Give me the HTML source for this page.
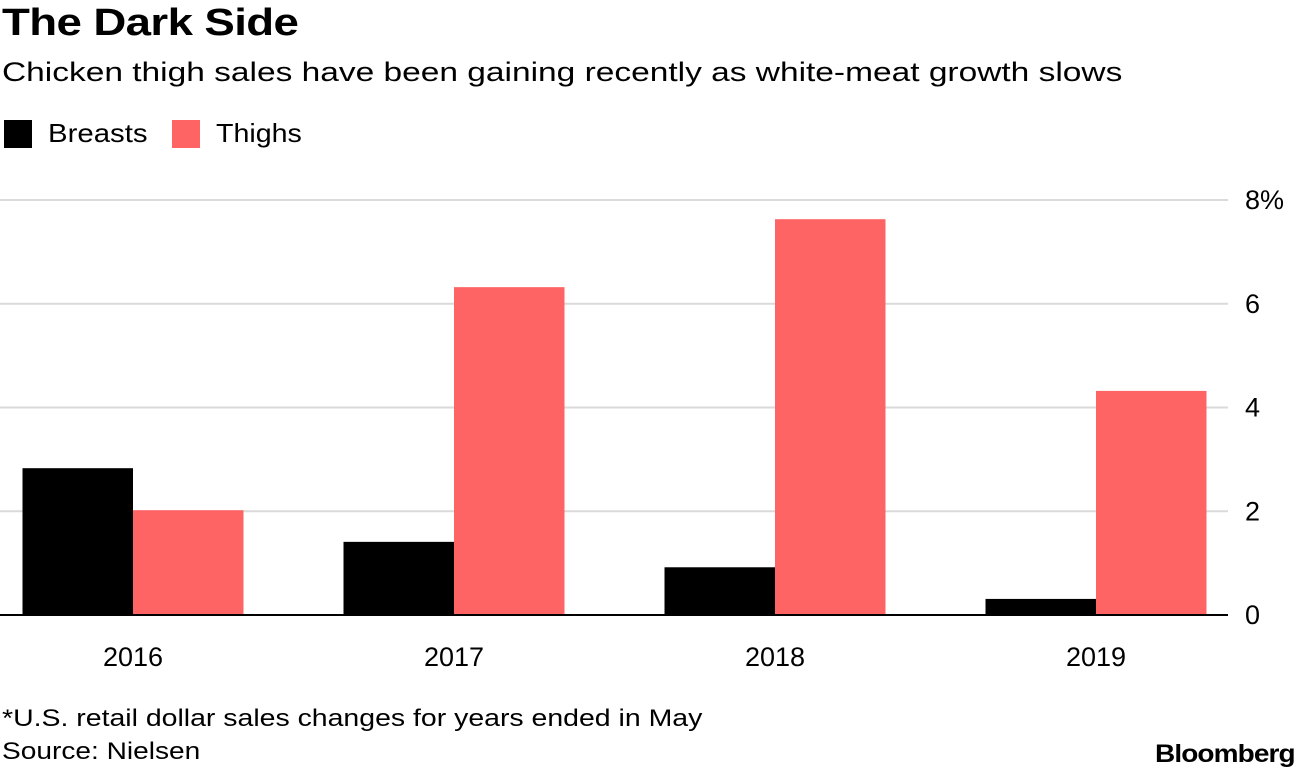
<!DOCTYPE html>
<html><head><meta charset="utf-8"><style>
body{margin:0;width:1296px;height:770px;background:#fff;font-family:"Liberation Sans",sans-serif;overflow:hidden;position:relative}
.t{position:absolute;white-space:nowrap;color:#000;transform-origin:0 0}
</style></head><body>
<div class="t" style="left:2px;top:2px;font-size:38px;font-weight:bold;letter-spacing:-0.5px;transform:scaleX(1.2)">The Dark Side</div>
<div class="t" style="left:2px;top:57px;font-size:27px;transform:scaleX(1.24)">Chicken thigh sales have been gaining recently as white-meat growth slows</div>
<div style="position:absolute;left:4px;top:120px;width:28px;height:28px;background:#000"></div>
<div class="t" style="left:48px;top:118px;font-size:26px;transform:scaleX(1.13)">Breasts</div>
<div style="position:absolute;left:172px;top:120px;width:28px;height:28px;background:#ff6464"></div>
<div class="t" style="left:216px;top:118px;font-size:26px;transform:scaleX(1.1)">Thighs</div>
<svg id="chart" width="1296" height="770" style="position:absolute;left:0;top:0"></svg>
<div class="t" style="left:2px;top:705px;font-size:24px;transform:scaleX(1.185)">*U.S. retail dollar sales changes for years ended in May</div>
<div class="t" style="left:2px;top:738px;font-size:24px;transform:scaleX(1.17)">Source: Nielsen</div>
<div class="t" style="left:1155px;top:740px;font-size:25px;font-weight:bold;letter-spacing:-0.8px;transform:scaleX(1.12)">Bloomberg</div>
<script>
const categories=["2016","2017","2018","2019"];
const breasts=[2.83,1.41,0.92,0.31];
const thighs=[2.02,6.32,7.63,4.32];
const ticks=[0,2,4,6,8];
const tickLabels=["0","2","4","6","8%"];
const svg=document.getElementById('chart');
const NS="http://www.w3.org/2000/svg";
const y0=615,yTop=200,maxV=8;
const y=v=>y0-(v/maxV)*(y0-yTop);
const xc=i=>133+i*321;
const bw=110.5;
function mk(t,a){const e=document.createElementNS(NS,t);for(const k in a)e.setAttribute(k,a[k]);svg.appendChild(e);return e;}
ticks.forEach((t,i)=>{
 if(t!==0){const g=mk('line',{x1:0,x2:1228,y1:y(t),y2:y(t),stroke:'#dadada','stroke-width':2});
 
 }
 const l=mk('text',{x:1245,y:y(t)+9,'font-size':27,'font-family':'Liberation Sans, sans-serif'});
 l.textContent=tickLabels[i];
 
 
});
categories.forEach((c,i)=>{
 const b=mk('rect',{x:xc(i)-bw,y:y(breasts[i]),width:bw,height:y0-y(breasts[i]),fill:'#000'});
 
 
 const t=mk('rect',{x:xc(i),y:y(thighs[i]),width:bw,height:y0-y(thighs[i]),fill:'#ff6464'});
 
 
 const l=mk('text',{x:xc(i),y:666,'font-size':27,'text-anchor':'middle','font-family':'Liberation Sans, sans-serif'});
 l.textContent=c;
 
 
});
const base=mk('line',{x1:0,x2:1228,y1:y0,y2:y0,stroke:'#000','stroke-width':2});


</script>
</body></html>
